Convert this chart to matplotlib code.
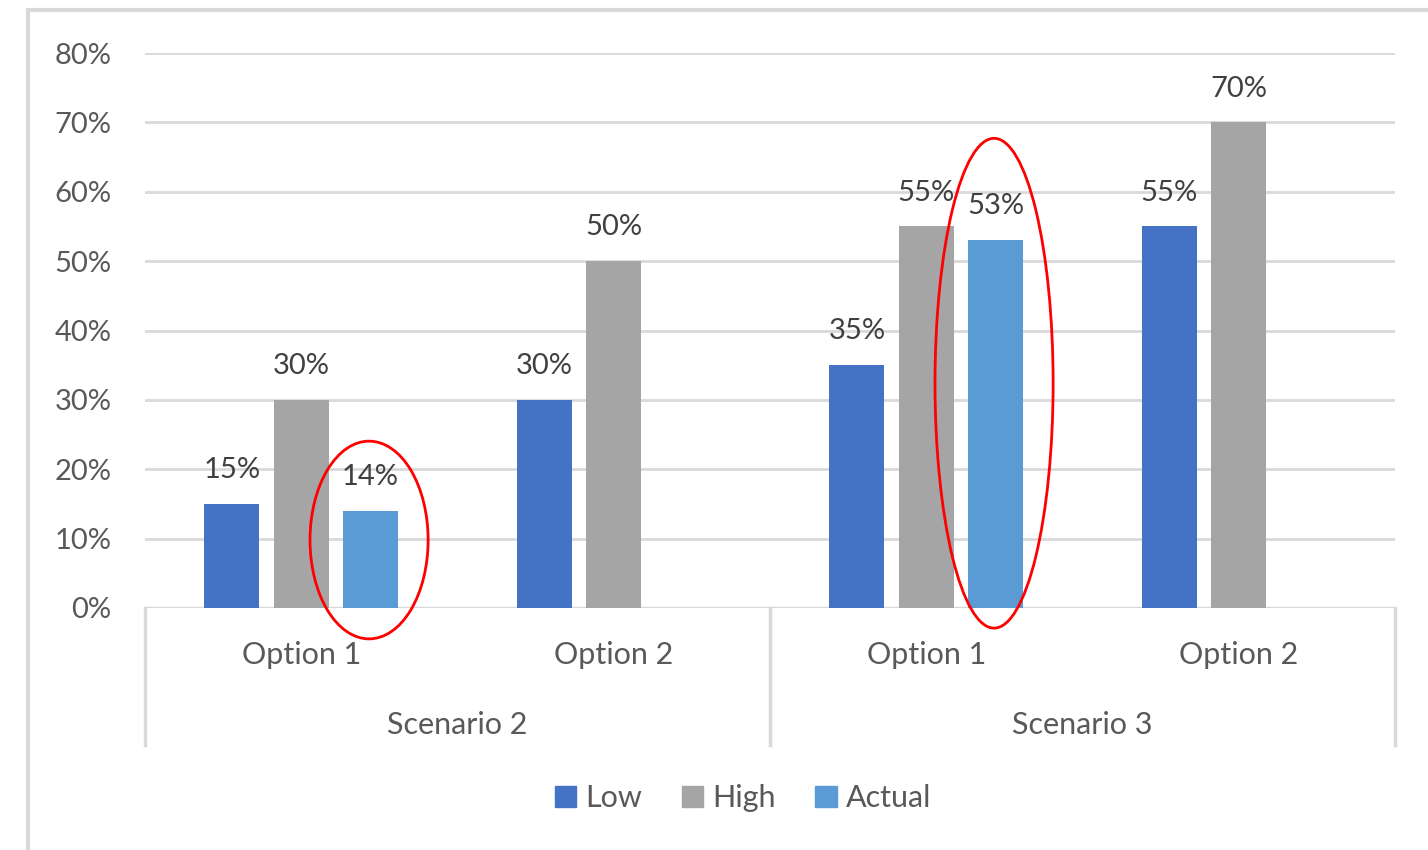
import numpy as np
import matplotlib.pyplot as plt
from matplotlib.patches import Ellipse, Rectangle, Patch
from matplotlib.transforms import blended_transform_factory

## Chart data
scenarios = ['Scenario 2', 'Scenario 3']
options = ['Option 1', 'Option 2', 'Option 1', 'Option 2']
series_names = ['Low', 'High', 'Actual']
low = [0.15, 0.30, 0.35, 0.55]
high = [0.30, 0.50, 0.55, 0.70]
actual = [0.14, None, 0.53, None]
yticks = [0, 0.1, 0.2, 0.3, 0.4, 0.5, 0.6, 0.7, 0.8]

## Style
colors = ['#4472C4', '#A5A5A5', '#5B9BD5']
grid_color = '#D9D9D9'
axis_text = '#595959'
label_text = '#404040'
bar_width = 0.176
bar_step = 0.222
fs = 21

plt.rcParams['font.family'] = ['Lato', 'DejaVu Sans']

fig = plt.figure(figsize=(14.28, 8.5), dpi=100)
ax = fig.add_axes([145 / 1428, 1 - 608 / 850, 1250 / 1428, 555 / 850])

x = np.arange(len(options))
for i, vals in enumerate([low, high, actual]):
    for xi, v in zip(x, vals):
        if v is None:
            continue
        xpos = xi + (i - 1) * bar_step
        ax.bar(xpos, v, width=bar_width, color=colors[i], zorder=3)
        ax.annotate(f'{v:.0%}', (xpos, v), xytext=(0, 15), textcoords='offset points',
                    ha='center', va='bottom', fontsize=fs, color=label_text, zorder=4)

ax.set_xlim(-0.5, len(options) - 0.5)
ax.set_ylim(0, 0.8)
ax.set_yticks(yticks, labels=[f'{t:.0%}' for t in yticks], fontsize=fs, color=axis_text)
ax.tick_params(axis='y', length=0, pad=24)
ax.set_xticks([])
ax.grid(axis='y', color=grid_color, linewidth=2, zorder=0)
for s in ax.spines.values():
    s.set_visible(False)
ax.axhline(0, color=grid_color, linewidth=2.5, zorder=2)

## Two-level category axis
tr = blended_transform_factory(ax.transData, ax.transAxes)
for xi, name in zip(x, options):
    ax.text(xi, -0.085, name, transform=tr, ha='center', va='center',
            fontsize=fs + 1, color=axis_text)
for k, name in enumerate(scenarios):
    ax.text(2 * k + 0.5, -0.21, name, transform=tr, ha='center', va='center',
            fontsize=fs + 1, color=axis_text)
for xs in [-0.5, 1.5, 3.5]:
    ax.plot([xs, xs], [0, -0.247], transform=tr, color=grid_color, linewidth=2.5,
            clip_on=False, zorder=2)

## Highlight rings around the actual values
ax.add_patch(Ellipse((0.217, 0.098), 0.378, 0.285, fill=False, edgecolor='#FF0000',
                     linewidth=2, clip_on=False, zorder=5))
ax.add_patch(Ellipse((2.217, 0.324), 0.378, 0.706, fill=False, edgecolor='#FF0000',
                     linewidth=2, clip_on=False, zorder=5))

## Legend
handles = [Patch(color=c, label=n) for c, n in zip(colors, series_names)]
fig.legend(handles=handles, loc='center', bbox_to_anchor=(743 / 1428, 1 - 798 / 850),
           ncol=3, frameon=False, fontsize=fs + 1, labelcolor=axis_text,
           handlelength=0.7, handleheight=0.7, handletextpad=0.3, columnspacing=1.3)

## Chart border
fig.patches.append(Rectangle((28 / 1428, -0.1), 1.2, 1 - 10 / 850 + 0.1,
                             transform=fig.transFigure, fill=False,
                             edgecolor=grid_color, linewidth=3))

fig.savefig('out.png', dpi=100, facecolor='white')
